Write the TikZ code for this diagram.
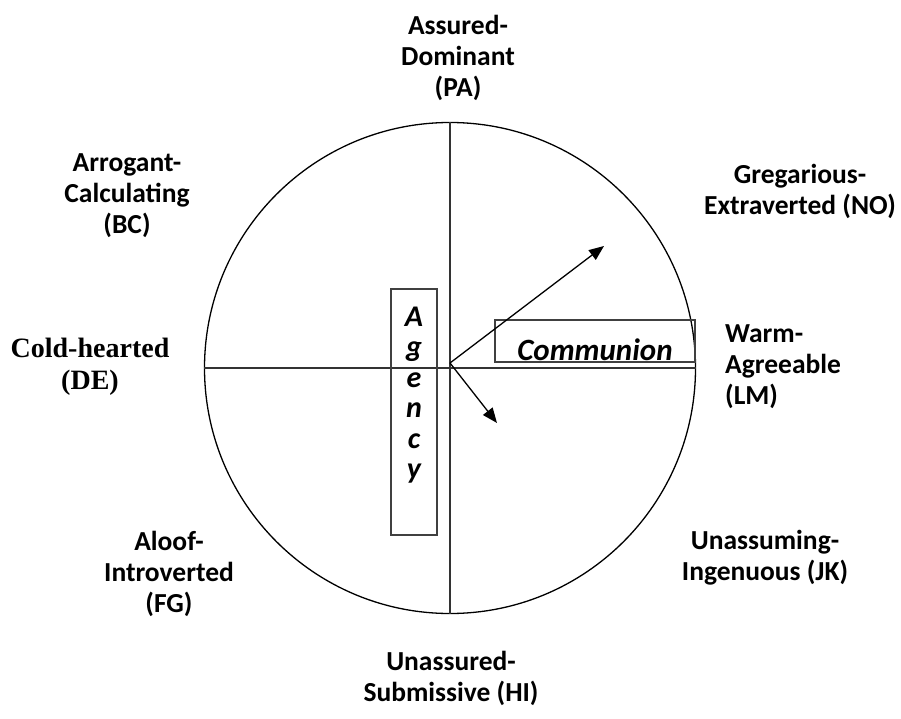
\documentclass[tikz,border=0pt]{standalone}
\usepackage{fontspec}
\setmainfont{Carlito}
\newfontfamily\timesfont{Liberation Serif}
\usetikzlibrary{arrows.meta}

\begin{document}
\begin{tikzpicture}[
    x=1pt, y=-1pt,
    font=\fontsize{27.5}{31}\selectfont\bfseries,
    octant/.style={align=center, inner sep=0pt},
    axis/.style={line width=1.3pt, draw=black!80},
    vec/.style={-{Triangle[length=15pt,width=12pt]}, line width=1.3pt},
    framebox/.style={draw=black!75, line width=1.3pt, inner sep=0pt}
]
    \useasboundingbox (0,0) rectangle (901,719);

    % circumplex
    \node[draw, circle, minimum size=491pt, line width=1.3pt, inner sep=0pt] (wheel) at (450,368) {};
    \draw[axis] (wheel.north) -- (wheel.south);
    \draw[axis] (wheel.west) -- (wheel.east);

    % the two dimension boxes
    \node[framebox, minimum width=46pt, minimum height=246pt] (agency) at (414,412) {};
    \node[octant, font=\fontsize{30}{30.5}\selectfont\bfseries\itshape] (agencytxt) at (414,395) {A\\g\\e\\n\\c\\y};
    \node[framebox, minimum width=200pt, minimum height=42pt] (communion) at (595,341) {};
    \node[octant, font=\fontsize{31}{31}\selectfont\bfseries\itshape] (communiontxt) at (595,350) {Communion};

    % vectors
    \coordinate (origin) at (450,363);
    \coordinate (up) at (604,246);
    \coordinate (down) at (497,423);
    \draw[vec] (origin) -- (up);
    \draw[vec] (origin) -- (down);

    % octant labels
    \node[octant] (pa) at (458,58) {Assured-\\Dominant\\(PA)};
    \node[octant] (bc) at (127,196) {Arrogant-\\Calculating\\(BC)};
    \node[octant] (no) at (800,191) {Gregarious-\\Extraverted (NO)};
    \node[octant, font=\timesfont\fontsize{28}{32}\selectfont\bfseries] (de) at (90,367) {Cold-hearted\\(DE)};
    \node[octant, anchor=west, align=left] (lm) at (725,367) {Warm-\\Agreeable\\(LM)};
    \node[octant] (jk) at (765,558) {Unassuming-\\Ingenuous (JK)};
    \node[octant] (fg) at (169,574) {Aloof-\\Introverted\\(FG)};
    \node[octant] (hi) at (451,678) {Unassured-\\Submissive (HI)};
\end{tikzpicture}
\end{document}
